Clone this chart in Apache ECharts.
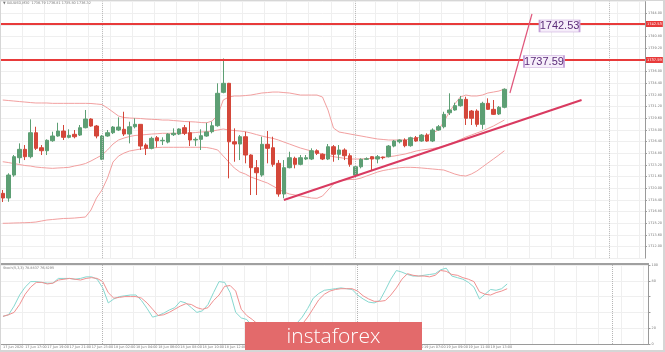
<!DOCTYPE html>
<html>
<head>
<meta charset="utf-8">
<script src="https://cdn.jsdelivr.net/npm/echarts@6/dist/echarts.min.js"></script>
<style>
    html, body {margin: 0; padding: 0; background: #fff;}
    #chart {width: 665px; height: 352px;}
</style>
</head>
<body>
<div id="chart"></div>
<script>
// XAUUSD M30, bars as [open, close, low, high]
var candles = [
    [1719.29, 1718.65, 1718.10, 1719.75], [1718.65, 1721.80, 1718.14, 1722.04], [1721.80, 1724.32, 1721.57, 1724.55],
    [1724.18, 1725.33, 1723.41, 1726.15], [1725.33, 1724.32, 1723.86, 1725.92], [1724.32, 1727.61, 1724.10, 1729.45],
    [1727.61, 1725.47, 1725.24, 1728.43], [1725.55, 1725.14, 1724.55, 1725.92], [1725.14, 1726.57, 1724.55, 1726.70],
    [1726.51, 1727.16, 1726.37, 1727.75], [1727.16, 1727.84, 1727.06, 1728.98], [1727.84, 1726.98, 1726.61, 1728.67],
    [1726.98, 1727.25, 1726.84, 1728.08], [1727.39, 1727.06, 1726.84, 1727.98], [1727.29, 1728.30, 1727.16, 1728.67],
    [1728.30, 1729.49, 1728.21, 1730.73], [1729.49, 1728.53, 1728.43, 1729.59], [1728.53, 1727.16, 1726.84, 1728.67],
    [1723.96, 1727.16, 1723.86, 1727.29], [1727.16, 1727.61, 1727.06, 1727.98], [1727.61, 1728.39, 1727.43, 1728.53],
    [1727.98, 1728.39, 1727.84, 1729.72], [1728.08, 1727.43, 1727.16, 1730.49], [1727.43, 1728.43, 1726.15, 1729.12],
    [1728.43, 1728.76, 1728.21, 1729.59], [1728.76, 1725.78, 1725.24, 1728.76], [1725.92, 1725.47, 1724.55, 1726.15],
    [1725.47, 1726.84, 1725.33, 1727.06], [1726.92, 1726.51, 1725.61, 1727.16], [1726.51, 1726.57, 1725.92, 1726.98],
    [1726.33, 1727.43, 1726.15, 1727.53], [1727.34, 1727.53, 1727.16, 1728.21], [1727.43, 1728.12, 1727.29, 1728.21],
    [1728.30, 1727.53, 1727.29, 1728.67], [1727.61, 1726.61, 1725.78, 1729.12], [1726.61, 1726.70, 1725.78, 1726.98],
    [1726.70, 1727.20, 1725.24, 1728.08], [1727.16, 1727.71, 1727.06, 1728.98], [1727.75, 1728.57, 1727.53, 1729.12],
    [1728.57, 1733.02, 1728.43, 1734.39], [1733.15, 1734.39, 1733.02, 1737.80], [1734.39, 1726.37, 1721.35, 1734.45],
    [1726.37, 1726.06, 1723.63, 1728.21], [1726.06, 1727.06, 1723.86, 1727.29], [1727.06, 1724.55, 1723.41, 1727.75],
    [1724.55, 1722.81, 1719.06, 1724.65], [1722.81, 1722.12, 1719.06, 1723.86], [1721.80, 1726.02, 1721.57, 1727.06],
    [1726.02, 1725.47, 1723.41, 1727.84], [1725.55, 1723.27, 1722.94, 1727.06], [1723.41, 1719.20, 1718.83, 1723.86],
    [1719.20, 1722.81, 1718.61, 1723.86], [1722.81, 1724.18, 1722.72, 1725.00], [1724.10, 1723.27, 1722.72, 1724.32],
    [1723.27, 1724.18, 1723.14, 1724.55], [1724.00, 1724.18, 1723.86, 1724.55], [1724.00, 1725.14, 1723.86, 1725.47],
    [1725.14, 1724.78, 1724.55, 1725.33], [1724.65, 1724.00, 1723.86, 1724.78], [1724.00, 1725.69, 1723.86, 1726.06],
    [1725.69, 1724.65, 1723.63, 1725.92], [1724.65, 1725.24, 1723.86, 1725.92], [1725.24, 1724.45, 1723.86, 1725.47],
    [1724.45, 1723.27, 1722.94, 1724.78], [1721.80, 1722.94, 1721.57, 1723.04], [1722.94, 1723.96, 1722.72, 1724.10],
    [1723.96, 1724.04, 1723.86, 1724.23], [1724.32, 1724.00, 1722.49, 1724.41], [1724.00, 1724.32, 1723.41, 1724.55],
    [1724.27, 1724.18, 1723.96, 1724.32], [1724.32, 1725.78, 1724.23, 1725.92], [1725.78, 1726.47, 1725.61, 1726.61],
    [1726.37, 1726.61, 1726.15, 1726.70], [1726.61, 1725.83, 1725.61, 1726.84], [1725.83, 1726.92, 1725.69, 1727.06],
    [1726.92, 1726.47, 1726.37, 1727.16], [1726.47, 1727.29, 1726.37, 1727.43], [1727.29, 1726.47, 1726.37, 1727.53],
    [1726.47, 1727.98, 1726.33, 1728.21], [1727.98, 1728.43, 1727.88, 1728.67], [1728.43, 1730.13, 1728.21, 1730.49],
    [1730.35, 1730.73, 1730.04, 1733.02], [1730.73, 1731.32, 1730.63, 1731.73], [1731.32, 1732.19, 1731.18, 1732.65],
    [1732.19, 1729.59, 1728.67, 1732.55], [1730.59, 1729.59, 1728.67, 1730.73], [1730.59, 1728.76, 1728.43, 1730.82],
    [1728.76, 1731.64, 1728.08, 1731.86], [1731.64, 1730.82, 1730.73, 1732.33], [1730.82, 1730.13, 1730.04, 1732.10],
    [1730.18, 1731.10, 1730.04, 1731.27], [1731.10, 1733.57, 1730.96, 1733.70]
];

// bollinger bands
var bbUpper = [
    1732.10, 1732.03, 1731.96, 1731.89, 1731.82, 1731.75, 1731.69, 1731.69, 1731.69, 1731.64,
    1731.64, 1731.64, 1731.64, 1731.64, 1731.64, 1731.64, 1731.62, 1731.55, 1731.48, 1731.00,
    1730.45, 1729.90, 1729.70, 1729.63, 1729.59, 1729.56, 1729.49, 1729.45, 1729.42, 1729.35,
    1729.35, 1729.28, 1729.22, 1729.15, 1729.12, 1729.08, 1729.01, 1728.98, 1729.22, 1730.04,
    1732.10, 1732.51, 1732.65, 1732.65, 1732.71, 1732.78, 1732.92, 1733.06, 1733.12, 1733.19,
    1733.19, 1733.12, 1733.06, 1732.92, 1732.78, 1732.78, 1732.78, 1732.78, 1732.51, 1730.72,
    1728.25, 1727.71, 1727.57, 1727.43, 1727.29, 1727.16, 1727.02, 1726.88, 1726.75, 1726.68,
    1726.61, 1726.61, 1726.61, 1726.61, 1726.75, 1726.88, 1727.02, 1727.29, 1727.57, 1727.98,
    1729.08, 1730.45, 1731.55, 1732.51, 1732.78, 1732.65, 1732.65, 1732.78, 1733.06, 1733.19,
    1733.33, 1733.61
];
var bbMiddle = [
    1723.63, 1723.52, 1723.38, 1723.25, 1723.11, 1723.04, 1722.90, 1722.83, 1722.77, 1722.72,
    1722.77, 1722.81, 1722.86, 1723.04, 1723.18, 1723.38, 1723.73, 1724.14, 1724.55, 1725.24,
    1726.06, 1726.61, 1726.88, 1727.09, 1727.23, 1727.29, 1727.36, 1727.43, 1727.47, 1727.53,
    1727.53, 1727.53, 1727.53, 1727.53, 1727.57, 1727.64, 1727.71, 1727.75, 1727.84, 1727.98,
    1728.12, 1727.98, 1727.91, 1727.84, 1727.75, 1727.57, 1727.36, 1727.16, 1726.98, 1726.84,
    1726.61, 1726.33, 1726.06, 1725.78, 1725.51, 1725.30, 1725.10, 1724.89, 1724.69, 1724.48,
    1724.32, 1724.21, 1724.10, 1724.00, 1724.00, 1724.00, 1724.04, 1724.10, 1724.18, 1724.23,
    1724.32, 1724.41, 1724.55, 1724.69, 1724.89, 1725.10, 1725.24, 1725.33, 1725.44, 1725.58,
    1725.78, 1726.06, 1726.33, 1726.68, 1727.02, 1727.29, 1727.57, 1727.84, 1728.19, 1728.53,
    1728.94, 1729.35
];
var bbLower = [
    1715.18, 1715.19, 1715.22, 1715.24, 1715.26, 1715.29, 1715.35, 1715.49, 1715.63, 1715.70,
    1715.77, 1715.84, 1715.86, 1715.90, 1715.97, 1716.04, 1717.00, 1718.65, 1719.75, 1721.39,
    1723.59, 1724.41, 1724.82, 1725.10, 1725.24, 1725.37, 1725.44, 1725.51, 1725.58, 1725.61,
    1725.61, 1725.61, 1725.61, 1725.61, 1725.61, 1725.61, 1725.61, 1725.58, 1725.44, 1725.24,
    1724.41, 1723.59, 1722.77, 1722.22, 1721.94, 1721.53, 1721.26, 1720.98, 1720.71, 1720.30,
    1719.88, 1719.47, 1719.20, 1719.06, 1718.92, 1718.79, 1718.65, 1718.61, 1718.92, 1719.75,
    1720.57, 1720.98, 1721.12, 1721.19, 1721.21, 1721.39, 1721.67, 1721.94, 1722.22, 1722.42,
    1722.56, 1722.70, 1722.81, 1722.86, 1722.86, 1722.83, 1722.77, 1722.70, 1722.63, 1722.56,
    1722.49, 1722.22, 1721.94, 1721.74, 1721.67, 1721.94, 1722.35, 1722.90, 1723.45, 1724.00,
    1724.55, 1725.14
];

// stochastic (5,3,3)
var stochK = [
    35, 37, 48, 62, 72, 79, 79, 78, 77, 77, 83, 83, 83, 82, 83, 85, 85, 82, 71, 52,
    57, 60, 61, 62, 62, 55, 45, 34, 36, 39, 43, 46, 54, 52, 46, 40, 42, 50, 65, 79,
    78, 65, 40, 33, 31, 22, 14, 18, 22, 15, 9, 12, 20, 26, 34, 45, 58, 64, 68, 69,
    70, 71, 70, 69, 62, 57, 53, 52, 55, 68, 82, 93, 91, 88, 86, 86, 87, 88, 89, 94,
    96, 86, 84, 82, 78, 72, 57, 63, 69, 68, 70, 76
];
var stochD = [
    35, 37, 40, 50, 63, 72, 78, 78, 76, 77, 81, 82, 83, 82, 81, 83, 84, 83, 79, 65,
    58, 59, 60, 60, 60, 58, 52, 44, 36, 37, 40, 44, 48, 51, 50, 46, 44, 46, 55, 62,
    73, 74, 67, 44, 36, 31, 25, 20, 18, 19, 15, 12, 13, 18, 25, 34, 45, 56, 63, 67,
    69, 70, 70, 70, 67, 61, 57, 54, 54, 55, 62, 71, 82, 89, 87, 86, 86, 85, 87, 93,
    92, 88, 87, 84, 82, 79, 66, 63, 62, 65, 67, 70
];

var timeLabels = [
    '17 Jun 2020', '17 Jun 17:00', '17 Jun 19:00', '17 Jun 21:00', '17 Jun 23:00',
    '18 Jun 02:00', '18 Jun 04:00', '18 Jun 06:00', '18 Jun 08:00', '18 Jun 10:00',
    '18 Jun 12:00', '18 Jun 14:00', '18 Jun 16:00', '18 Jun 18:00', '18 Jun 20:00',
    '18 Jun 22:00', '19 Jun 01:00', '19 Jun 03:00', '19 Jun 05:00', '19 Jun 07:00',
    '19 Jun 09:00', '19 Jun 11:00', '19 Jun 13:00'
];

var levels = [1742.53, 1737.59];
var lastPrice = 1733.57;
var trendLine = [[51, 1718.37], [105, 1732.10]];
var breakoutLine = [[92, 1733.06], [96, 1743.90]];
var daySeparators = [18, 64, 110];
var slotCount = 117;   // bars + empty shift on the right

var slots = [];
for (var i = 0; i < slotCount; i++) slots.push(String(i));

var GREEN = '#5d9f74', RED = '#d4473a';
var GRID_LINE = '#efefef';
var TINY = {fontSize: 3.4, color: '#777', fontFamily: 'DejaVu Sans'};

var myChart = echarts.init(document.getElementById('chart'));

var levelLines = levels.map(function (v) {
    return {
        yAxis: v,
        lineStyle: {color: '#e83a3a', width: 2, type: 'solid'},
        label: {
            show: true, position: 'end', distance: 1, formatter: v.toFixed(2),
            backgroundColor: '#e83a3a', color: '#fff', fontSize: 3.6, padding: [1, 1]
        }
    };
});
var sepLines = daySeparators.map(function (i) {
    return {xAxis: i, lineStyle: {color: '#b5b5b5', type: 'dotted', width: 1}, label: {show: false}};
});
var drawnLines = [
    [{coord: trendLine[0], lineStyle: {color: '#d93a60', width: 2, type: 'solid'}, label: {show: false}},
        {coord: trendLine[1]}],
    [{coord: breakoutLine[0], lineStyle: {color: '#e0557a', width: 1.2, type: 'solid'}, label: {show: false}},
        {coord: breakoutLine[1]}],
    {
        yAxis: lastPrice, lineStyle: {opacity: 0},
        label: {
            show: true, position: 'end', distance: 1, formatter: lastPrice.toFixed(2),
            backgroundColor: '#4a4a4a', color: '#fff', fontSize: 3.6, padding: [1, 1]
        }
    }
];

// purple price tags next to the levels
var tags = [
    {coord: [101, levels[0]], symbolOffset: [0, 2]},
    {coord: [98, levels[1]], symbolOffset: [1, 1.5]}
].map(function (d, k) {
    d.symbol = 'rect';
    d.symbolSize = [40, 12];
    d.itemStyle = {color: '#f6eefa', borderColor: '#c4a0d8', borderWidth: 1};
    d.label = {
        show: true, position: 'inside', formatter: levels[k].toFixed(2),
        color: '#5a2a78', fontSize: 11, fontFamily: 'Liberation Sans'
    };
    return d;
});

var option = {
    animation: false,
    backgroundColor: '#fff',
    textStyle: {fontFamily: 'DejaVu Sans'},
    grid: [
        {left: -1.82, top: 1.63, width: 650.3, height: 256.5},
        {left: -1.82, top: 265, width: 650.3, height: 79}
    ],
    xAxis: [
        {
            type: 'category', gridIndex: 0, data: slots,
            axisLine: {show: false}, axisTick: {show: false}, axisLabel: {show: false},
            splitLine: {show: true, interval: 3, lineStyle: {color: GRID_LINE}}
        },
        {
            type: 'category', gridIndex: 1, data: slots,
            axisLine: {show: true, lineStyle: {color: '#9a9a9a'}},
            axisTick: {show: false},
            axisLabel: Object.assign({
                interval: 0, align: 'left', margin: 2,
                formatter: function (v, idx) {
                    return idx % 4 === 0 && timeLabels[idx / 4] ? timeLabels[idx / 4] : '';
                }
            }, TINY),
            splitLine: {show: true, interval: 3, lineStyle: {color: GRID_LINE}}
        }
    ],
    yAxis: [
        {
            type: 'value', gridIndex: 0, position: 'right',
            min: 1710.4, max: 1745.6, interval: 1.6,
            axisLine: {show: true, lineStyle: {color: '#9a9a9a'}},
            axisTick: {show: true, length: 2, lineStyle: {color: '#9a9a9a'}},
            axisLabel: Object.assign({
                margin: 3, showMaxLabel: false, showMinLabel: false,
                formatter: function (v) { return v.toFixed(2); }
            }, TINY),
            splitLine: {lineStyle: {color: GRID_LINE}}
        },
        {
            type: 'value', gridIndex: 1, position: 'right',
            min: 0, max: 100, interval: 20,
            axisLine: {show: true, lineStyle: {color: '#9a9a9a'}},
            axisTick: {show: true, length: 2, lineStyle: {color: '#9a9a9a'}},
            axisLabel: Object.assign({
                margin: 3,
                formatter: function (v) { return (v === 40 || v === 60) ? '' : String(v); }
            }, TINY),
            splitLine: {lineStyle: {color: GRID_LINE}}
        }
    ],
    series: [
        {
            name: 'XAUUSD', type: 'candlestick', xAxisIndex: 0, yAxisIndex: 0,
            data: candles, barWidth: 4,
            itemStyle: {color: GREEN, color0: RED, borderColor: GREEN, borderColor0: RED, borderWidth: 1},
            markLine: {
                silent: true, symbol: ['none', 'none'], animation: false,
                data: sepLines.concat(levelLines, drawnLines)
            },
            markPoint: {silent: true, animation: false, data: tags}
        },
        {
            name: 'BB upper', type: 'line', xAxisIndex: 0, yAxisIndex: 0, data: bbUpper,
            symbol: 'none', lineStyle: {color: '#f2a0a0', width: 1}, z: 1
        },
        {
            name: 'BB middle', type: 'line', xAxisIndex: 0, yAxisIndex: 0, data: bbMiddle,
            symbol: 'none', lineStyle: {color: '#f2a0a0', width: 1}, z: 1
        },
        {
            name: 'BB lower', type: 'line', xAxisIndex: 0, yAxisIndex: 0, data: bbLower,
            symbol: 'none', lineStyle: {color: '#f2a0a0', width: 1}, z: 1
        },
        {
            name: '%K', type: 'line', xAxisIndex: 1, yAxisIndex: 1, data: stochK,
            symbol: 'none', lineStyle: {color: '#86d8d0', width: 1},
            markLine: {silent: true, symbol: ['none', 'none'], animation: false, data: sepLines}
        },
        {
            name: '%D', type: 'line', xAxisIndex: 1, yAxisIndex: 1, data: stochD,
            symbol: 'none', lineStyle: {color: '#f09090', width: 1}
        }
    ],
    graphic: [
        {type: 'line', shape: {x1: 0, y1: 264, x2: 649, y2: 264}, style: {stroke: '#a0a0a0', lineWidth: 2}, z: 50},
        {
            type: 'text', x: 3, y: 2, z: 50,
            style: {text: '\u25BC XAUUSD,M30  1736.79 1736.81 1735.80 1736.32', fill: '#777', font: '3.4px "DejaVu Sans"'}
        },
        {
            type: 'text', x: 3, y: 267, z: 50,
            style: {text: 'Stoch(5,3,3) 78.8837 76.8295', fill: '#777', font: '3.4px "DejaVu Sans"'}
        },
        {
            type: 'rect', z: 100, silent: true,
            shape: {x: 245, y: 322, width: 177, height: 31}, style: {fill: '#e36a6b'}
        },
        {
            type: 'text', z: 101, silent: true, x: 333.5, y: 337,
            style: {
                text: 'instaforex', fill: '#fff', align: 'center', verticalAlign: 'middle',
                font: '300 21px "Open Sans"'
            }
        },
        {
            type: 'rect', z: 110, silent: true,
            shape: {x: 0, y: 0, width: 664, height: 351},
            style: {fill: 'none', stroke: '#d6d6d6', lineWidth: 2}
        }
    ]
};

myChart.setOption(option);
window.addEventListener('resize', function () {
    myChart.resize();
});
</script>
</body>
</html>
